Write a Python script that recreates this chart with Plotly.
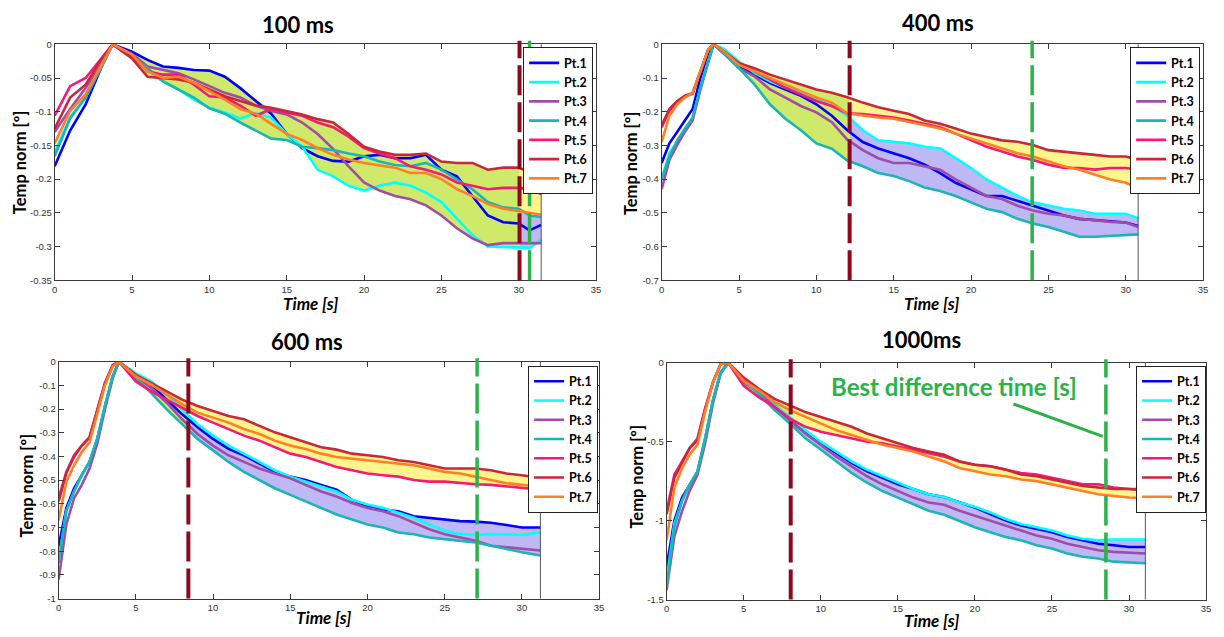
import numpy as np
import plotly.graph_objects as go

# ---------------- data ----------------
names = ["Pt.1", "Pt.2", "Pt.3", "Pt.4", "Pt.5", "Pt.6", "Pt.7"]
colors = ["#0000FF", "#00FFFF", "#A04CA8", "#1BB5B5", "#F5197A", "#C8283A", "#FF7F27"]

titles = ["100 ms", "400 ms", "600 ms", "1000ms"]

# panel 1 (100 ms)
t1 = [0, 1, 2, 3, 3.75] + list(range(5, 31)) + [30.7, 31.45]
p1_pt1 = [-0.181, -0.128, -0.089, -0.035, 0, -0.011, -0.023, -0.033, -0.035, -0.038, -0.039, -0.048, -0.065, -0.084, -0.103, -0.133, -0.154, -0.166, -0.173, -0.174, -0.166, -0.164, -0.169, -0.169, -0.164, -0.186, -0.196, -0.225, -0.254, -0.264, -0.266, -0.276, -0.268]
p1_pt2 = [-0.16, -0.108, -0.079, -0.033, 0, -0.016, -0.038, -0.055, -0.067, -0.082, -0.094, -0.101, -0.11, -0.102, -0.109, -0.133, -0.152, -0.186, -0.196, -0.21, -0.217, -0.21, -0.205, -0.21, -0.22, -0.234, -0.259, -0.283, -0.3, -0.301, -0.302, -0.302, -0.29]
p1_pt3 = [-0.13, -0.096, -0.065, -0.03, 0, -0.014, -0.033, -0.038, -0.043, -0.052, -0.062, -0.072, -0.079, -0.091, -0.099, -0.104, -0.116, -0.133, -0.155, -0.181, -0.205, -0.217, -0.225, -0.23, -0.239, -0.254, -0.273, -0.288, -0.298, -0.295, -0.295, -0.295, -0.295]
p1_pt4 = [-0.166, -0.11, -0.079, -0.033, 0, -0.018, -0.035, -0.055, -0.067, -0.079, -0.095, -0.103, -0.116, -0.128, -0.14, -0.142, -0.152, -0.154, -0.157, -0.162, -0.166, -0.174, -0.179, -0.181, -0.176, -0.186, -0.2, -0.215, -0.234, -0.242, -0.244, -0.254, -0.256]
p1_pt5 = [-0.106, -0.062, -0.05, -0.021, 0, -0.016, -0.04, -0.045, -0.045, -0.06, -0.077, -0.079, -0.091, -0.106, -0.096, -0.101, -0.106, -0.116, -0.123, -0.137, -0.154, -0.162, -0.169, -0.181, -0.186, -0.193, -0.205, -0.21, -0.215, -0.213, -0.213, -0.215, -0.222]
p1_pt6 = [-0.125, -0.079, -0.06, -0.023, 0, -0.021, -0.048, -0.05, -0.052, -0.057, -0.067, -0.077, -0.084, -0.091, -0.094, -0.099, -0.104, -0.111, -0.116, -0.133, -0.152, -0.159, -0.164, -0.164, -0.162, -0.174, -0.176, -0.176, -0.186, -0.183, -0.183, -0.19, -0.19]
p1_pt7 = [-0.147, -0.099, -0.074, -0.033, 0, -0.015, -0.04, -0.05, -0.048, -0.057, -0.069, -0.082, -0.096, -0.103, -0.118, -0.133, -0.142, -0.154, -0.164, -0.171, -0.176, -0.179, -0.183, -0.191, -0.191, -0.2, -0.215, -0.225, -0.237, -0.244, -0.247, -0.25, -0.253]

# panel 2 (400 ms)
t2 = [0, 0.5, 1, 1.5, 2, 2.5, 3, 3.35, 4] + list(range(5, 31)) + [30.8]
p2_pt1 = [-0.352, -0.294, -0.26, -0.226, -0.192, -0.1, -0.032, 0, -0.025, -0.066, -0.09, -0.115, -0.134, -0.153, -0.178, -0.212, -0.255, -0.29, -0.309, -0.323, -0.338, -0.357, -0.382, -0.411, -0.43, -0.45, -0.45, -0.464, -0.479, -0.493, -0.508, -0.518, -0.522, -0.527, -0.529, -0.539]
p2_pt2 = [-0.4, -0.323, -0.29, -0.25, -0.221, -0.129, -0.05, 0, -0.013, -0.051, -0.085, -0.11, -0.129, -0.144, -0.163, -0.183, -0.212, -0.255, -0.285, -0.29, -0.294, -0.304, -0.309, -0.338, -0.367, -0.401, -0.425, -0.45, -0.469, -0.479, -0.488, -0.493, -0.503, -0.503, -0.503, -0.516]
p2_pt3 = [-0.43, -0.343, -0.299, -0.26, -0.226, -0.135, -0.055, 0, -0.025, -0.071, -0.095, -0.134, -0.158, -0.183, -0.202, -0.231, -0.283, -0.314, -0.338, -0.352, -0.352, -0.362, -0.372, -0.401, -0.425, -0.45, -0.459, -0.479, -0.493, -0.503, -0.508, -0.518, -0.522, -0.527, -0.529, -0.542]
p2_pt4 = [-0.4, -0.333, -0.285, -0.25, -0.217, -0.129, -0.05, 0, -0.027, -0.071, -0.119, -0.178, -0.221, -0.255, -0.294, -0.31, -0.345, -0.362, -0.382, -0.391, -0.406, -0.425, -0.435, -0.45, -0.469, -0.488, -0.498, -0.518, -0.532, -0.542, -0.556, -0.571, -0.571, -0.568, -0.566, -0.564]
p2_pt5 = [-0.246, -0.197, -0.173, -0.153, -0.147, -0.08, -0.017, 0, -0.02, -0.056, -0.081, -0.105, -0.129, -0.149, -0.168, -0.183, -0.205, -0.207, -0.212, -0.217, -0.226, -0.236, -0.246, -0.265, -0.285, -0.304, -0.318, -0.333, -0.343, -0.357, -0.367, -0.367, -0.372, -0.367, -0.367, -0.372]
p2_pt6 = [-0.24, -0.192, -0.168, -0.153, -0.144, -0.08, -0.017, 0, -0.02, -0.056, -0.071, -0.09, -0.105, -0.119, -0.134, -0.144, -0.157, -0.173, -0.187, -0.197, -0.207, -0.226, -0.236, -0.25, -0.265, -0.275, -0.285, -0.289, -0.299, -0.314, -0.318, -0.323, -0.328, -0.333, -0.333, -0.343]
p2_pt7 = [-0.29, -0.212, -0.178, -0.158, -0.144, -0.08, -0.017, 0, -0.02, -0.061, -0.081, -0.1, -0.119, -0.139, -0.158, -0.173, -0.205, -0.212, -0.217, -0.221, -0.231, -0.241, -0.25, -0.265, -0.28, -0.294, -0.309, -0.323, -0.333, -0.348, -0.362, -0.372, -0.386, -0.401, -0.411, -0.428]

# panel 3 (600 ms)
t3 = [0, 0.5, 1, 1.5, 2, 2.5, 3, 3.5, 3.9] + list(range(5, 31)) + [31.2]
p3_pt1 = [-0.78, -0.617, -0.534, -0.478, -0.423, -0.326, -0.187, -0.062, 0, -0.055, -0.097, -0.16, -0.222, -0.277, -0.326, -0.368, -0.395, -0.43, -0.465, -0.485, -0.499, -0.52, -0.54, -0.583, -0.61, -0.624, -0.631, -0.652, -0.659, -0.666, -0.673, -0.675, -0.68, -0.689, -0.7, -0.7]
p3_pt2 = [-0.84, -0.63, -0.548, -0.478, -0.423, -0.326, -0.187, -0.062, 0, -0.049, -0.083, -0.139, -0.201, -0.264, -0.312, -0.354, -0.388, -0.423, -0.458, -0.485, -0.506, -0.527, -0.548, -0.583, -0.603, -0.617, -0.638, -0.659, -0.687, -0.714, -0.728, -0.731, -0.728, -0.728, -0.731, -0.721]
p3_pt3 = [-0.92, -0.687, -0.576, -0.52, -0.451, -0.347, -0.2, -0.07, 0, -0.062, -0.111, -0.173, -0.243, -0.305, -0.354, -0.395, -0.423, -0.451, -0.472, -0.492, -0.52, -0.548, -0.569, -0.596, -0.617, -0.631, -0.652, -0.68, -0.707, -0.728, -0.742, -0.756, -0.777, -0.784, -0.791, -0.797]
p3_pt4 = [-0.85, -0.63, -0.548, -0.478, -0.423, -0.326, -0.187, -0.062, 0, -0.069, -0.132, -0.201, -0.264, -0.326, -0.374, -0.423, -0.465, -0.499, -0.534, -0.562, -0.589, -0.617, -0.645, -0.666, -0.687, -0.7, -0.721, -0.728, -0.742, -0.749, -0.756, -0.763, -0.777, -0.791, -0.804, -0.818]
p3_pt5 = [-0.575, -0.465, -0.395, -0.354, -0.319, -0.201, -0.09, -0.014, 0, -0.083, -0.125, -0.16, -0.194, -0.229, -0.257, -0.284, -0.312, -0.333, -0.361, -0.388, -0.402, -0.423, -0.444, -0.458, -0.472, -0.479, -0.485, -0.499, -0.506, -0.506, -0.513, -0.517, -0.52, -0.527, -0.534, -0.54]
p3_pt6 = [-0.59, -0.47, -0.402, -0.354, -0.319, -0.201, -0.09, -0.014, 0, -0.055, -0.09, -0.125, -0.16, -0.187, -0.208, -0.229, -0.243, -0.27, -0.298, -0.319, -0.34, -0.361, -0.371, -0.388, -0.395, -0.402, -0.416, -0.423, -0.437, -0.451, -0.451, -0.451, -0.458, -0.472, -0.479, -0.49]
p3_pt7 = [-0.67, -0.506, -0.437, -0.381, -0.34, -0.215, -0.1, -0.02, 0, -0.062, -0.097, -0.139, -0.18, -0.215, -0.236, -0.257, -0.284, -0.305, -0.333, -0.354, -0.368, -0.388, -0.402, -0.409, -0.416, -0.423, -0.43, -0.437, -0.451, -0.465, -0.472, -0.485, -0.499, -0.513, -0.52, -0.527]

# panel 4 (1000 ms)
t4 = [0, 0.5, 1, 1.5, 2, 2.5, 3, 3.5, 4] + list(range(5, 31)) + [31.06]
p4_pt1 = [-1.29, -1.0, -0.854, -0.77, -0.69, -0.48, -0.24, -0.0625, 0, -0.115, -0.1875, -0.27, -0.354, -0.4375, -0.51, -0.573, -0.635, -0.6875, -0.729, -0.77, -0.8, -0.833, -0.85, -0.885, -0.917, -0.958, -1.0, -1.031, -1.052, -1.073, -1.104, -1.125, -1.146, -1.156, -1.167, -1.167]
p4_pt2 = [-1.375, -1.02, -0.875, -0.77, -0.69, -0.48, -0.24, -0.0625, 0, -0.125, -0.177, -0.27, -0.344, -0.427, -0.5, -0.5625, -0.625, -0.677, -0.719, -0.76, -0.8, -0.833, -0.85, -0.885, -0.9125, -0.948, -0.99, -1.021, -1.042, -1.0625, -1.094, -1.115, -1.125, -1.12, -1.12, -1.12]
p4_pt3 = [-1.44, -1.1, -0.94, -0.81, -0.71, -0.51, -0.26, -0.07, 0, -0.125, -0.1875, -0.28, -0.365, -0.448, -0.52, -0.594, -0.656, -0.719, -0.77, -0.8125, -0.854, -0.885, -0.9, -0.9375, -0.969, -1.0, -1.031, -1.0625, -1.094, -1.115, -1.146, -1.167, -1.1875, -1.198, -1.204, -1.208]
p4_pt4 = [-1.42, -1.04, -0.875, -0.77, -0.69, -0.48, -0.24, -0.0625, 0, -0.115, -0.198, -0.3, -0.385, -0.479, -0.55, -0.625, -0.698, -0.76, -0.8125, -0.854, -0.896, -0.9375, -0.963, -1.0, -1.042, -1.073, -1.104, -1.125, -1.156, -1.177, -1.208, -1.229, -1.24, -1.26, -1.267, -1.27]
p4_pt5 = [-0.94, -0.71, -0.625, -0.54, -0.48, -0.29, -0.125, -0.01, 0, -0.146, -0.219, -0.28, -0.354, -0.406, -0.4375, -0.458, -0.479, -0.5, -0.51, -0.53, -0.552, -0.573, -0.594, -0.625, -0.646, -0.656, -0.677, -0.698, -0.708, -0.729, -0.75, -0.77, -0.77, -0.79, -0.8, -0.8]
p4_pt6 = [-0.96, -0.73, -0.635, -0.54, -0.49, -0.29, -0.125, -0.01, 0, -0.094, -0.167, -0.229, -0.27, -0.3125, -0.344, -0.375, -0.406, -0.448, -0.479, -0.51, -0.54, -0.5625, -0.583, -0.625, -0.646, -0.656, -0.677, -0.708, -0.719, -0.74, -0.76, -0.78, -0.79, -0.8, -0.8, -0.81]
p4_pt7 = [-1.125, -0.79, -0.667, -0.58, -0.52, -0.31, -0.125, -0.01, 0, -0.115, -0.177, -0.25, -0.3, -0.344, -0.385, -0.427, -0.458, -0.49, -0.52, -0.54, -0.5625, -0.594, -0.625, -0.667, -0.6875, -0.708, -0.719, -0.74, -0.75, -0.77, -0.79, -0.8125, -0.833, -0.844, -0.854, -0.858]

peak_times = [3.75, 3.35, 3.9, 4.0]
split_times = [30.05, 12.15, 8.4, 8.05]     # dark red dashed line
best_times = [30.7, 23.95, 27.1, 28.5]      # green dashed line

y_ranges = [[-0.35, 0], [-0.7, 0], [-1, 0], [-1.5, 0]]
y_tickvals = [
    [0, -0.05, -0.1, -0.15, -0.2, -0.25, -0.3, -0.35],
    [0, -0.1, -0.2, -0.3, -0.4, -0.5, -0.6, -0.7],
    [0, -0.1, -0.2, -0.3, -0.4, -0.5, -0.6, -0.7, -0.8, -0.9, -1],
    [0, -0.5, -1, -1.5],
]
y_ticktext = [
    ["0", "-0.05", "-0.1", "-0.15", "-0.2", "-0.25", "-0.3", "-0.35"],
    ["0", "-0.1", "-0.2", "-0.3", "-0.4", "-0.5", "-0.6", "-0.7"],
    ["0", "-0.1", "-0.2", "-0.3", "-0.4", "-0.5", "-0.6", "-0.7", "-0.8", "-0.9", "-1"],
    ["0", "-0.5", "-1", "-1.5"],
]
x_tickvals = [0, 5, 10, 15, 20, 25, 30, 35]
x_ticktext = ["0", "5", "10", "15", "20", "25", "30", "35"]

annotation_text = "Best difference time [s]"

panels = [
    (t1, [p1_pt1, p1_pt2, p1_pt3, p1_pt4, p1_pt5, p1_pt6, p1_pt7]),
    (t2, [p2_pt1, p2_pt2, p2_pt3, p2_pt4, p2_pt5, p2_pt6, p2_pt7]),
    (t3, [p3_pt1, p3_pt2, p3_pt3, p3_pt4, p3_pt5, p3_pt6, p3_pt7]),
    (t4, [p4_pt1, p4_pt2, p4_pt3, p4_pt4, p4_pt5, p4_pt6, p4_pt7]),
]

# ---------------- layout geometry (pixels) ----------------
W, H = 1224, 637
def px(x):
    return x / W
def py(y):
    return 1 - y / H

# plot boxes: left, right, top, bottom
boxes = [(52, 597, 39, 279), (663, 1208, 39, 279), (56, 600, 362, 603), (668, 1211, 363, 604)]
legend_pos = [(594, 42), (1205, 42), (599, 366), (1211, 366)]
title_pos = [(297, 19), (941, 17), (306, 341), (925, 339)]
xtitle_pos = [(310, 303), (935, 303), (323, 622), (935, 625)]
ytitle_pos = [(17, 159), (632, 160), (24, 488), (638, 479)]

FILL_MIXED = "#CFEA6A"
FILL_HOT = "#FFF58C"
FILL_COLD = "#BEB8F4"
SPLIT_COLOR = "#8B0A1E"
BEST_COLOR = "#2CB24A"

fig = go.Figure()
shapes = []
annotations = []

def envelope(T, Y, idx, t_sel):
    vals = np.array([np.interp(t_sel, T, Y[i]) for i in idx])
    return vals.max(axis=0), vals.min(axis=0)

def label(text, x, y, size, color="black", angle=0):
    return dict(text=text, x=px(x), y=py(y), xref="paper", yref="paper", showarrow=False,
                xanchor="center", yanchor="middle", textangle=angle,
                font=dict(family="Lato", size=size, color=color))

for k, (T, series) in enumerate(panels):
    T = np.array(T, dtype=float)
    Y = np.array(series, dtype=float)
    assert Y.shape[1] == len(T), (k, [len(s) for s in series], len(T))
    xa = "x" if k == 0 else f"x{k+1}"
    ya = "y" if k == 0 else f"y{k+1}"
    lg = "legend" if k == 0 else f"legend{k+1}"
    peak, split, end = peak_times[k], split_times[k], T[-1]

    # fill bands
    tA = np.concatenate([T[(T >= peak) & (T < split)], [split]])
    up, lo = envelope(T, Y, range(7), tA)
    fig.add_trace(go.Scatter(x=np.concatenate([tA, tA[::-1]]), y=np.concatenate([up, lo[::-1]]),
                             fill="toself", fillcolor=FILL_MIXED, line=dict(width=0), mode="lines",
                             showlegend=False, hoverinfo="skip", xaxis=xa, yaxis=ya))
    tB = np.concatenate([[split], T[T > split]])
    for idx, col in [((4, 5, 6), FILL_HOT), ((0, 1, 2, 3), FILL_COLD)]:
        up, lo = envelope(T, Y, idx, tB)
        fig.add_trace(go.Scatter(x=np.concatenate([tB, tB[::-1]]), y=np.concatenate([up, lo[::-1]]),
                                 fill="toself", fillcolor=col, line=dict(width=0), mode="lines",
                                 showlegend=False, hoverinfo="skip", xaxis=xa, yaxis=ya))

    # curves
    for i in range(7):
        fig.add_trace(go.Scatter(x=T, y=Y[i], mode="lines", name=names[i],
                                 line=dict(color=colors[i], width=2.6),
                                 xaxis=xa, yaxis=ya, legend=lg))

    # end-of-data line and vertical markers
    shapes.append(dict(type="line", xref=xa, yref=f"{ya} domain", x0=end, x1=end, y0=0, y1=1,
                       line=dict(color="#555555", width=1), layer="above"))
    shapes.append(dict(type="line", xref=xa, yref=f"{ya} domain", x0=split, x1=split, y0=0, y1=1.015,
                       line=dict(color=SPLIT_COLOR, width=4, dash="30px,7px"), layer="above"))
    shapes.append(dict(type="line", xref=xa, yref=f"{ya} domain", x0=best_times[k], x1=best_times[k], y0=0, y1=1.015,
                       line=dict(color=BEST_COLOR, width=3.5, dash="30px,7px"), layer="above"))

    l, r, t, b = boxes[k]
    axis_common = dict(showline=True, linecolor="#3a3a3a", linewidth=1, mirror="ticks",
                       ticks="inside", ticklen=5, tickcolor="#3a3a3a", showgrid=False, zeroline=False,
                       tickfont=dict(family="Liberation Sans", size=9.5, color="#333333"))
    fig.layout[("xaxis" if k == 0 else f"xaxis{k+1}")] = dict(
        domain=[px(l), px(r)], anchor=ya, range=[0, 35], tickvals=x_tickvals, ticktext=x_ticktext, **axis_common)
    fig.layout[("yaxis" if k == 0 else f"yaxis{k+1}")] = dict(
        domain=[py(b), py(t)], anchor=xa, range=y_ranges[k], tickvals=y_tickvals[k], ticktext=y_ticktext[k], **axis_common)

    lx, ly = legend_pos[k]
    fig.layout[lg] = dict(x=px(lx), y=py(ly), xanchor="right", yanchor="top", bgcolor="white",
                          bordercolor="#222222", borderwidth=1, itemwidth=30, tracegroupgap=0,
                          font=dict(family="Lato", size=12.5, color="black", weight="bold"))

    tx, ty = title_pos[k]
    annotations.append(label(f"<b>{titles[k]}</b>", tx, ty, 22))
    tx, ty = xtitle_pos[k]
    annotations.append(label("<b><i>Time [s]</i></b>", tx, ty, 17))
    tx, ty = ytitle_pos[k]
    annotations.append(label("<b>Temp norm [º]</b>", tx, ty, 16.5, angle=-90))

# "Best difference time" label with pointer line
annotations.append(label(f"<b>{annotation_text}</b>", 957, 387, 24, color=BEST_COLOR))
shapes.append(dict(type="line", xref="paper", yref="paper", x0=px(1017), y0=py(405), x1=px(1107), y1=py(438),
                   line=dict(color=BEST_COLOR, width=3)))

fig.update_layout(width=W, height=H, margin=dict(l=0, r=0, t=0, b=0),
                  paper_bgcolor="white", plot_bgcolor="white",
                  shapes=shapes, annotations=annotations, hovermode=False)

fig.write_html("out.html")
